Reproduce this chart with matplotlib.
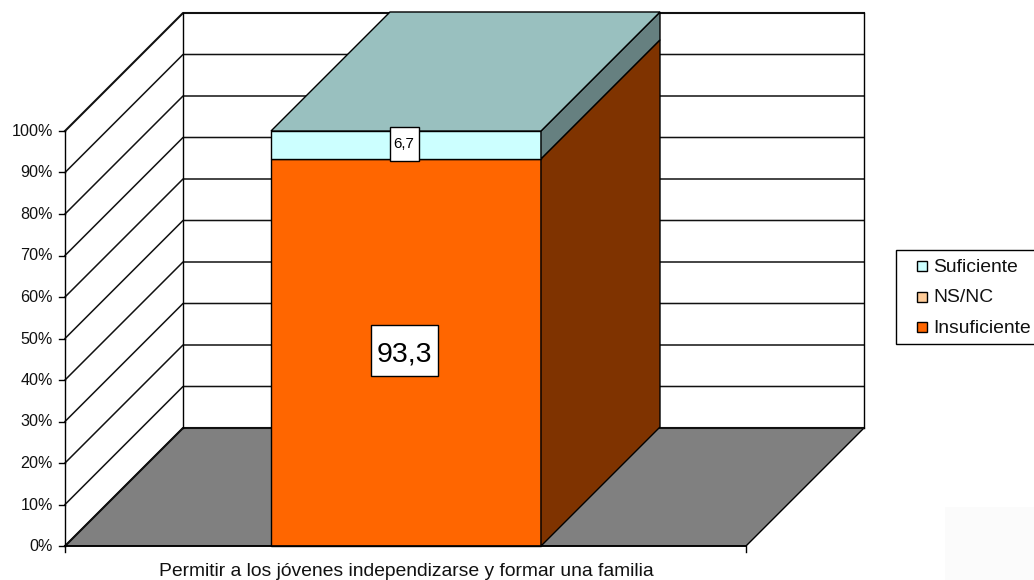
import matplotlib
matplotlib.use('Agg')
import matplotlib.pyplot as plt
from matplotlib.patches import Polygon, Rectangle

plt.rcParams['font.family'] = ['Liberation Sans', 'DejaVu Sans']

# datos
category = 'Permitir a los jóvenes independizarse y formar una familia'
series_names = ['Insuficiente', 'NS/NC', 'Suficiente']
series_values = [93.3, 0.0, 6.7]
series_labels = ['93,3', '', '6,7']
tick_values = [0, 10, 20, 30, 40, 50, 60, 70, 80, 90, 100]

front_colors = ['#ff6600', '#ffcc99', '#ccffff']
side_colors = ['#7f3300', '#7f6650', '#668080']
top_color = '#99c0bf'

# geometria en pixeles
PX_PER_PCT = 4.15
ZERO_Y = 546
LEFT, RIGHT = 65, 746
DEPTH = 118
BAR_L, BAR_R = 271, 541
BAR_DEPTH = 119

fig = plt.figure(figsize=(10.34, 5.8), dpi=100)
ax = fig.add_axes([0, 0, 1, 1])
ax.set_xlim(0, 1034)
ax.set_ylim((ZERO_Y - 580) / PX_PER_PCT, ZERO_Y / PX_PER_PCT)
ax.axis('off')


def proj(x, v, d=0):
    # proyeccion oblicua: d son pixeles de profundidad
    return (x + d, v + d / PX_PER_PCT)


def poly(points, color, lw=1.0, z=2):
    ax.add_patch(Polygon(points, closed=True, facecolor=color, edgecolor='black',
                         linewidth=lw, zorder=z, joinstyle='miter'))


# mancha clara abajo a la derecha
ax.add_patch(Rectangle((945, -8.5), 89, 18, facecolor='#fbfbfb', edgecolor='none', zorder=0))

# suelo
poly([proj(LEFT, 0), proj(RIGHT, 0), proj(RIGHT, 0, DEPTH), proj(LEFT, 0, DEPTH)], '#808080', z=1)

# rejilla de paredes
for v in tick_values:
    xs, ys = zip(proj(LEFT, v), proj(LEFT, v, DEPTH), proj(RIGHT, v, DEPTH))
    ax.plot(xs, ys, color='#111111', lw=1.1 if v not in (0, 100) else 1.5, zorder=1.5)
    ax.plot([LEFT - 6, LEFT], [v, v], color='black', lw=1.0, zorder=3)
    ax.text(LEFT - 12, v - 0.5 / PX_PER_PCT, f'{v}%', ha='right', va='center', fontsize=11.6,
            color='#111111')

xs, ys = zip(proj(LEFT, 0), proj(LEFT, 100))
ax.plot(xs, ys, color='black', lw=1.0, zorder=3)
xs, ys = zip(proj(LEFT, 0, DEPTH), proj(LEFT, 100, DEPTH))
ax.plot(xs, ys, color='black', lw=1.0, zorder=1.5)
xs, ys = zip(proj(RIGHT, 0, DEPTH), proj(RIGHT, 100, DEPTH))
ax.plot(xs, ys, color='black', lw=1.0, zorder=1.5)

# eje inferior
ax.plot([LEFT, RIGHT], [0, 0], color='black', lw=1.2, zorder=5)
for x in (LEFT, RIGHT):
    ax.plot([x, x], [0, -6 / PX_PER_PCT], color='black', lw=1.0, zorder=3)
ax.text((LEFT + RIGHT) / 2 + 0.5, -26 / PX_PER_PCT, category, ha='center', va='center',
        fontsize=13.9, color='#111111')

# barra apilada
base = 0
for i, val in enumerate(series_values):
    if val == 0:
        continue
    poly([proj(BAR_L, base), proj(BAR_R, base), proj(BAR_R, base + val), proj(BAR_L, base + val)],
         front_colors[i], z=3)
    poly([proj(BAR_R, base), proj(BAR_R, base, BAR_DEPTH), proj(BAR_R, base + val, BAR_DEPTH),
          proj(BAR_R, base + val)], side_colors[i], z=3)
    base += val
poly([proj(BAR_L, base), proj(BAR_R, base), proj(BAR_R, base, BAR_DEPTH), proj(BAR_L, base, BAR_DEPTH)],
     top_color, z=3)

# etiquetas de datos, caja de tamano fijo en pixeles
base = 0
sizes = [20.5, 0, 10.8]
box_w = [67, 0, 29]
box_h = [51, 0, 34]
box_dy = [2.4, 0, 0.5]
text_dy = [-1.7, 0, 0.5]
for i, val in enumerate(series_values):
    if val > 0:
        xc = (BAR_L + BAR_R) / 2 - 2
        yc = base + val / 2
        ybox = yc + box_dy[i] / PX_PER_PCT
        ax.add_patch(Rectangle((xc - box_w[i] / 2, ybox - box_h[i] / 2 / PX_PER_PCT), box_w[i],
                               box_h[i] / PX_PER_PCT, facecolor='white', edgecolor='black',
                               linewidth=1.0, zorder=6))
        ax.text(xc, yc + text_dy[i] / PX_PER_PCT, series_labels[i], ha='center', va='center',
                fontsize=sizes[i], color='black', zorder=7)
    base += val

# leyenda
ax.add_patch(Rectangle((896, (ZERO_Y - 344) / PX_PER_PCT), 145, 94 / PX_PER_PCT,
                       facecolor='white', edgecolor='black', linewidth=1.0, zorder=4))
for i, name in enumerate(reversed(series_names)):
    yc = (ZERO_Y - (266 + 30.5 * i)) / PX_PER_PCT
    color = list(reversed(front_colors))[i]
    ax.add_patch(Rectangle((917, yc - 5 / PX_PER_PCT), 10, 10 / PX_PER_PCT,
                           facecolor=color, edgecolor='black', linewidth=1.0, zorder=5))
    ax.text(933, yc - 1.5 / PX_PER_PCT, name, ha='left', va='center', fontsize=13.85,
            color='#111111', zorder=5)

fig.savefig('out.png', dpi=100)
